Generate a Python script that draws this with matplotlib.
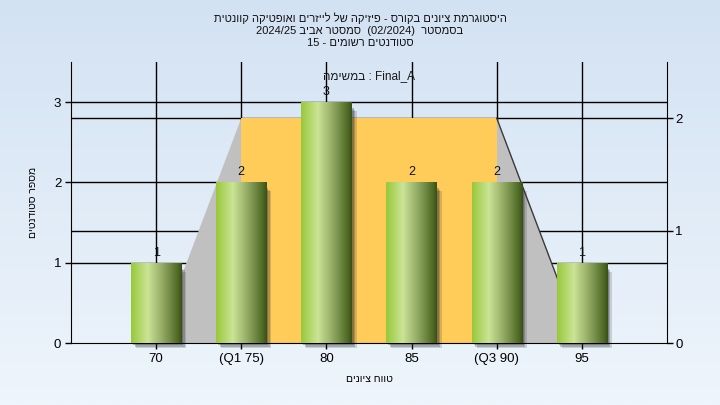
import numpy as np
import matplotlib
matplotlib.use("Agg")
import matplotlib.pyplot as plt
from matplotlib.colors import LinearSegmentedColormap
from matplotlib.patches import Polygon, Rectangle
from matplotlib.transforms import ScaledTranslation, blended_transform_factory

plt.rcParams['font.family'] = ['Liberation Sans', 'DejaVu Sans']

# ---------------- data ----------------
categories = [70, 75, 80, 85, 90, 95]
tick_labels = ["70", "(Q1 75)", "80", "85", "(Q3 90)", "95"]
counts = [1, 2, 3, 2, 2, 1]
grade_min, grade_q1, grade_q3, grade_max = 70, 75, 90, 95
box_height = 2  # on right axis
left_ticks = [0, 1, 2, 3]
right_ticks = [0, 1, 2]

# Hebrew strings written in visual (left-to-right glyph) order
title_lines = [
    "תיטנווק הקיטפואו םירזייל לש הקיזיפ - סרוקב םינויצ תמרגוטסיה",
    "2024/25 ביבא רטסמס  (02/2024)  רטסמסב",
    "15 - םימושר םיטנדוטס",
]
task_label = "המישמב : Final_A"
xlabel = "םינויצ חווט"
ylabel = "םיטנדוטס רפסמ"

# ---------------- figure ----------------
fig = plt.figure(figsize=(7.2, 4.05), dpi=100)

bg = fig.add_axes([0, 0, 1, 1], zorder=-10)
grad = np.linspace(0, 1, 256).reshape(-1, 1)
bg_cmap = LinearSegmentedColormap.from_list("bg", ["#D3E2F3", "#EEF5FC"])
bg.imshow(grad, aspect='auto', cmap=bg_cmap, extent=[0, 1, 0, 1], origin='upper')
bg.set_axis_off()

rect_ax = [71 / 720, 1 - 343 / 405, (667 - 71) / 720, (343 - 62) / 405]
ax = fig.add_axes(rect_ax)
ax2 = ax.twinx()
ax.set_zorder(2)
ax2.set_zorder(1)
ax.patch.set_visible(False)
ax2.patch.set_facecolor("#B4B4B4")

pos = np.arange(len(categories))
cat_index = {c: i for i, c in enumerate(categories)}

ax.set_xlim(-1, len(categories))
ax.set_ylim(0, 3.5)
ax2.set_ylim(0, 2.5)

ax.set_yticks(left_ticks)
ax2.set_yticks(right_ticks)
ax.set_xticks(pos)
ax.set_xticklabels(tick_labels)

# grid lines, all drawn in the back axes (below everything in the front axes)
left_tr = blended_transform_factory(ax2.transAxes, ax.transData)
for y in left_ticks[1:]:
    ax2.plot([0, 1], [y, y], color="black", lw=1, transform=left_tr, zorder=0.5)
for y in right_ticks[1:]:
    ax2.axhline(y, color="black", lw=1, zorder=0.5)
for x in pos:
    ax2.axvline(x, color="black", lw=1, zorder=0.5)

# box / trapezoid (right-axis coordinates), drawn in the front axes
xs_poly = [cat_index[grade_min], cat_index[grade_q1], cat_index[grade_q3], cat_index[grade_max]]
ys_poly = [0, box_height, box_height, 0]
poly = Polygon(list(zip(xs_poly, ys_poly)), closed=True, facecolor="#C0C0C0",
               edgecolor="none", transform=ax2.transData, zorder=1)
ax.add_patch(poly)
ax.plot([cat_index[grade_q3], cat_index[grade_max]], [box_height, 0], color="#3A3A3A",
        lw=1, transform=ax2.transData, zorder=1.2)
box = Rectangle((cat_index[grade_q1], 0), cat_index[grade_q3] - cat_index[grade_q1], box_height,
                facecolor="#FFCC5A", edgecolor="none", transform=ax2.transData, zorder=1.1)
ax.add_patch(box)

# bars
bar_w = 0.59
bars = ax.bar(pos, counts, width=bar_w, color="none", edgecolor="none", zorder=3)
green = LinearSegmentedColormap.from_list("g", [
    (0.0, "#98C83A"), (0.33, "#CBE496"), (0.6, "#97AE68"), (0.92, "#4F6A25"), (1.0, "#3A4F18")])
hgrad = np.linspace(0, 1, 256).reshape(1, -1)
for rect in bars:
    x0, y0, w, h = rect.get_x(), rect.get_y(), rect.get_width(), rect.get_height()
    for dx, a in [(5, 0.18), (3.5, 0.25), (2, 0.3)]:
        sh = Rectangle((x0, y0), w, h - 0.05, facecolor="#303030", edgecolor="none", alpha=a,
                       transform=ax.transData + ScaledTranslation(dx / 100, -dx / 100, fig.dpi_scale_trans),
                       zorder=2.5, clip_on=False)
        ax.add_patch(sh)
    im = ax.imshow(hgrad, extent=[x0, x0 + w, y0, y0 + h], aspect='auto', cmap=green, zorder=3)
    im.set_clip_path(rect)

for x, c in zip(pos, counts):
    ax.annotate(str(c), (x, c), xytext=(0, 3), textcoords="offset points", ha="center",
                va="bottom", fontsize=9, color="#101010", zorder=5)

ax.set_xlim(-1, len(categories))
ax.set_ylim(0, 3.5)

# spines / ticks
for a in (ax, ax2):
    a.spines['top'].set_visible(False)
ax.spines['right'].set_visible(False)
ax2.spines['left'].set_visible(False)
ax2.spines['bottom'].set_visible(False)
ax.tick_params(axis='both', labelsize=9.5, length=4, width=1, color="black", pad=3)
ax2.tick_params(axis='y', labelsize=9.5, length=4, width=1, color="black", pad=2)

ax.text(0.5, 0.95, task_label, transform=ax.transAxes, ha="center", va="center",
        fontsize=8.5, color="#1A1A1A", zorder=6)

ax.set_xlabel(xlabel, fontsize=7.5, labelpad=7)
ax.set_ylabel(ylabel, fontsize=7.5, labelpad=11)

for yy, line in zip([18, 30.5, 43], title_lines):
    fig.text(0.5, 1 - yy / 405, line, ha="center", va="center", fontsize=8, color="#111111")

fig.savefig("out.png", dpi=100)
